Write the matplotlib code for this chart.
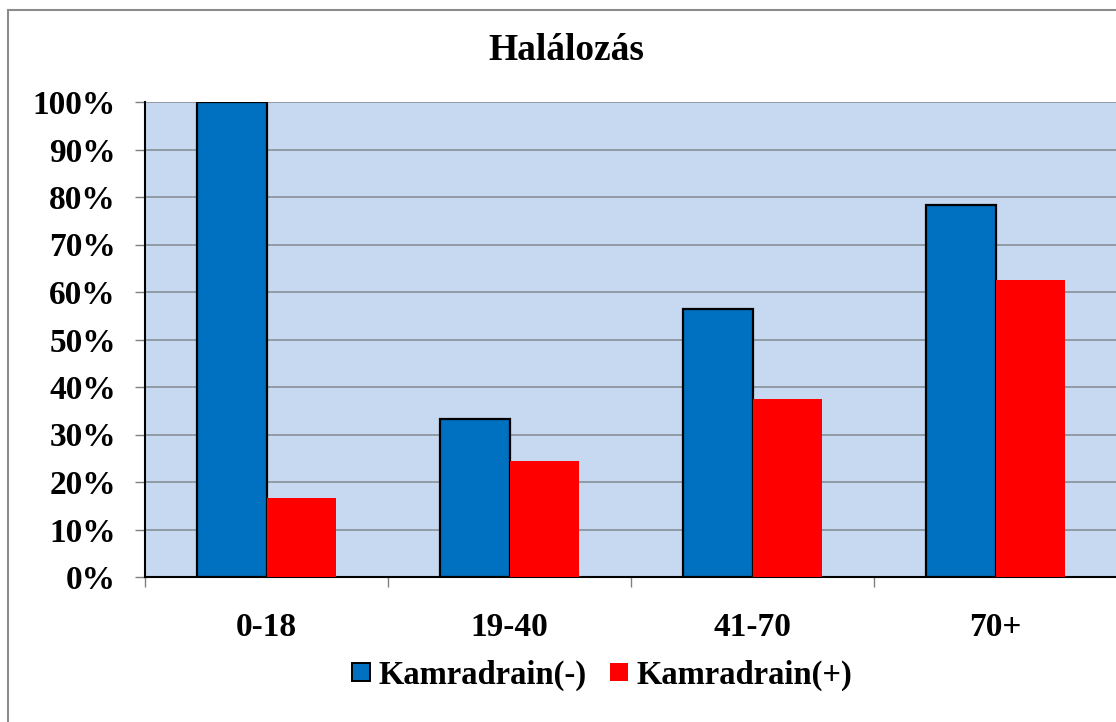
import numpy as np
import matplotlib.pyplot as plt
from matplotlib.patches import Rectangle
from matplotlib.lines import Line2D
from matplotlib.ticker import PercentFormatter

"""Halálozás chart - Kamradrain(-) vs Kamradrain(+)"""

categories = ['0-18', '19-40', '41-70', '70+']
series_names = ['Kamradrain(-)', 'Kamradrain(+)']
drain_neg = [100.0, 33.3, 56.4, 78.3]
drain_pos = [16.7, 24.5, 37.5, 62.5]
yticks = np.arange(0, 101, 10)

plt.rcParams['font.family'] = ['Liberation Serif', 'DejaVu Serif']
plt.rcParams['font.weight'] = 'bold'

fig = plt.figure(figsize=(11.16, 7.22), dpi=100)
ax = fig.add_axes([145/1116, 1-577/722, 972/1116, 475/722])

x = np.arange(len(categories))
w = 0.284
ax.bar(x - w/2, drain_neg, w, color='#0070C0', edgecolor='black', linewidth=1.6, zorder=3)
ax.bar(x + w/2, drain_pos, w, color='#FF0000', linewidth=0, zorder=3)

#Axes cosmetics
ax.set_facecolor('#C6D9F1')
ax.set_xlim(-0.5, len(categories) - 0.5)
ax.set_ylim(0, 100)
ax.set_yticks(yticks)
ax.yaxis.set_major_formatter(PercentFormatter(decimals=0))
ax.grid(axis='y', color='#8C96A0', linewidth=1.3, zorder=1)
ax.set_xticks(x)
ax.set_xticklabels(categories)
ax.set_xticks(np.arange(-0.5, len(categories)), minor=True)
ax.tick_params(axis='x', which='major', length=0, pad=25, labelsize=24)
ax.tick_params(axis='x', which='minor', length=7, color='#808080', width=1)
ax.tick_params(axis='y', length=7, color='#808080', width=1, pad=14, labelsize=24)
for side in ['top', 'right']:
    ax.spines[side].set_visible(False)
ax.spines['left'].set_color('black')
ax.spines['left'].set_linewidth(1.5)
ax.spines['bottom'].set_color('black')
ax.spines['bottom'].set_linewidth(1.5)

fig.text(566/1116, 1-51/722, 'Halálozás', ha='center', va='center',
         fontsize=27, fontweight='bold')

#Square legend markers
handles = [Line2D([], [], linestyle='none', marker='s', markersize=13,
                  markerfacecolor='#0070C0', markeredgecolor='black', markeredgewidth=1.4),
           Line2D([], [], linestyle='none', marker='s', markersize=12.5,
                  markerfacecolor='#FF0000', markeredgewidth=0)]
leg = fig.legend(handles, series_names, loc='center', bbox_to_anchor=(600/1116, 1-675/722),
                 ncol=2, frameon=False, fontsize=23.5, handlelength=0.8,
                 handletextpad=0.14, columnspacing=0.57)

#Outer chart border
fig.patches.append(Rectangle((8/1116, -0.1), 1.2, 1-10/722+0.1, transform=fig.transFigure,
                             fill=False, edgecolor='#8C8C8C', linewidth=1.5))

fig.savefig('out.png', dpi=100)
